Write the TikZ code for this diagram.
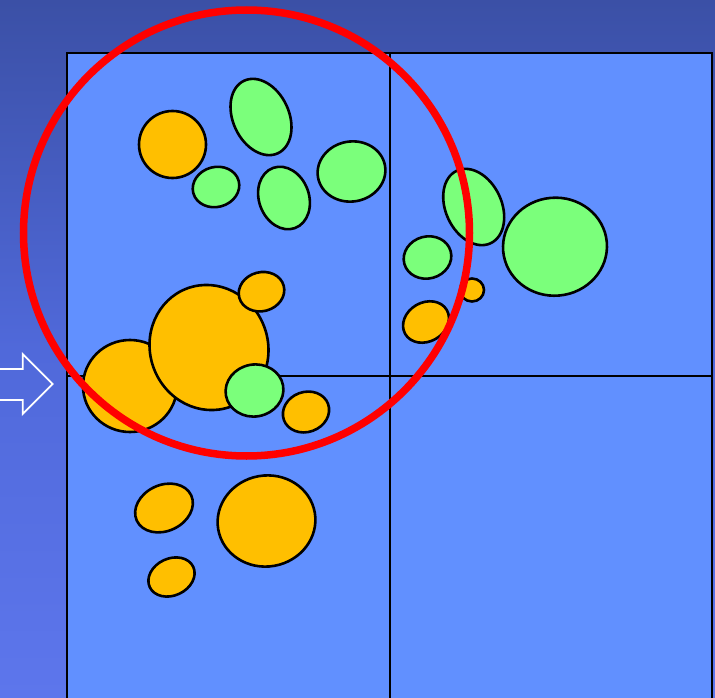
\documentclass[tikz,border=0pt]{standalone}
\definecolor{bgtop}{HTML}{3B50A6}
\definecolor{bgmid}{HTML}{5069DA}
\definecolor{bgbot}{HTML}{5D76EC}
\definecolor{cellblue}{HTML}{6190FF}
\definecolor{orng}{HTML}{FFBF00}
\definecolor{grn}{HTML}{7BFF7B}
\tikzset{
  blob/.style={draw=black, line width=2.6pt},
  orangeblob/.style={blob, fill=orng},
  greenblob/.style={blob, fill=grn},
  gridline/.style={draw=black, line width=2.4pt},
  ring/.style={draw=red, line width=7.5pt},
  arrowshape/.style={draw=white, line width=1.8pt, line join=miter}
}
\newcommand{\blobat}[6]{% style, cx, cy, rx, ry, angle
  \path[#1, rotate around={#6:(#2,#3)}] (#2,#3) ellipse [x radius=#4, y radius=#5];}
\begin{document}
\begin{tikzpicture}[x=1pt,y=-1pt]
\useasboundingbox (0,0) rectangle (715,698);
\clip (0,0) rectangle (715,698);
\shade[top color=bgtop, bottom color=bgbot, middle color=bgmid] (0,0) rectangle (715,698);
% grid
\fill[cellblue] (67,53) rectangle (712,702);
\draw[gridline] (67,53) rectangle (712,702);
\draw[gridline] (390,53) -- (390,702);
\draw[gridline] (67,376) -- (712,376);
% arrow at left
\draw[arrowshape] (-2,369) -- (22.7,369) -- (22.7,354) -- (52.7,384) -- (22.7,414) -- (22.7,400) -- (-2,400);
% top-left cell blobs
\blobat{orangeblob}{172.5}{144.5}{33.5}{33.5}{0}
\blobat{greenblob}{261}{117}{28}{40}{25}
\blobat{greenblob}{216}{187}{23.5}{20}{15}
\blobat{greenblob}{284}{198}{25}{32}{20}
\blobat{greenblob}{351.5}{171.5}{34}{30}{10}
% cluster near centre line
\blobat{orangeblob}{130}{386}{47}{46}{0}
\blobat{orangeblob}{209}{347.5}{59}{63}{20}
\blobat{orangeblob}{261.5}{291.7}{23}{19.5}{15}
\blobat{greenblob}{254.5}{390.5}{29}{26}{10}
\blobat{orangeblob}{306}{412}{23.5}{20}{20}
% top-right cell blobs
\blobat{greenblob}{473.7}{207}{28}{40}{25}
\blobat{greenblob}{555}{246.7}{52}{49}{5}
\blobat{greenblob}{427.5}{257.5}{24}{21}{15}
\blobat{orangeblob}{472}{290}{12}{11.5}{0}
\blobat{orangeblob}{426}{322}{24}{19.5}{30}
% lower-left cell blobs
\blobat{orangeblob}{164}{508}{30}{23}{25}
\blobat{orangeblob}{266.5}{521}{49}{45.5}{10}
\blobat{orangeblob}{171.5}{577}{24}{18.5}{25}
% red ring
\draw[ring] (246.5,233) circle [radius=223];
\end{tikzpicture}
\end{document}
